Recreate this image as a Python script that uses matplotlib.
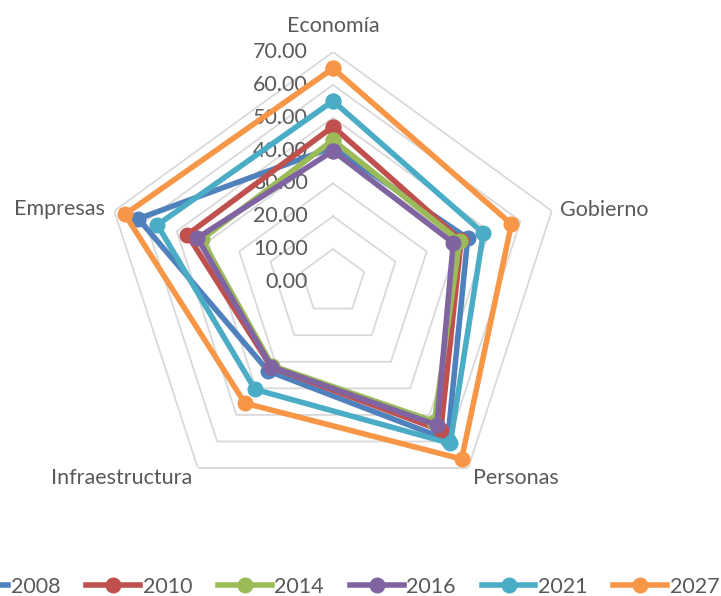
import numpy as np
import matplotlib.pyplot as plt
import matplotlib.transforms as mtransforms
from matplotlib.lines import Line2D

# === Data ===
categories = ["Economía", "Gobierno", "Personas", "Infraestructura", "Empresas"]
years = ["2008", "2010", "2014", "2016", "2021", "2027"]
v2008 = [41.0, 43.1, 59.4, 33.5, 62.3]
v2010 = [47.3, 41.0, 55.8, 32.0, 46.6]
v2014 = [43.2, 40.5, 52.5, 31.5, 42.0]
v2016 = [39.9, 38.5, 53.8, 31.9, 43.4]
v2021 = [55.1, 48.1, 60.7, 40.4, 56.2]
v2027 = [65.0, 57.1, 66.6, 45.6, 66.6]
ring_values = [10, 20, 30, 40, 50, 60, 70]
tick_values = [0, 10, 20, 30, 40, 50, 60, 70]

series = [v2008, v2010, v2014, v2016, v2021, v2027]
colors = ["#4F81BD", "#C0504D", "#9BBB59", "#8064A2", "#4BACC6", "#F79646"]

plt.rcParams["font.family"] = ["Lato", "DejaVu Sans"]
FS = 15.5
TXT = "#595959"

fig = plt.figure(figsize=(7.21, 5.96), dpi=100)
W, H = 721, 596
cx, cy, R = 333, 282, 230
ax = fig.add_axes([(cx - R) / W, (H - cy - R) / H, 2 * R / W, 2 * R / H], projection="polar")
ax.set_theta_offset(np.pi / 2)
ax.set_theta_direction(-1)
ax.set_ylim(0, 70)
ax.axis("off")

n = len(categories)
theta = np.arange(n) * 2 * np.pi / n
theta_closed = np.append(theta, theta[0])

# pentagon gridlines
for rv in ring_values:
    ax.plot(theta_closed, [rv] * (n + 1), color="#D9D9D9", lw=1.3, zorder=1)

# value labels on the vertical axis
for tv in tick_values:
    tr = mtransforms.offset_copy(ax.transData, fig=fig, x=-25, y=0, units="dots")
    ax.text(0, tv, f"{tv:.2f}", transform=tr, ha="right", va="center",
            fontsize=FS, color=TXT, zorder=2)

# category labels
label_specs = [
    (0, 26, "center", "center"),
    (8, 1, "left", "center"),
    (5, -10, "left", "center"),
    (-6, -10, "right", "center"),
    (-9, 2, "right", "center"),
]
for t, name, (dx, dy, ha, va) in zip(theta, categories, label_specs):
    tr = mtransforms.offset_copy(ax.transData, fig=fig, x=dx, y=dy, units="dots")
    ax.text(t, 70, name, transform=tr, ha=ha, va=va, fontsize=FS, color=TXT)

# series
for vals, col, yr in zip(series, colors, years):
    ax.plot(theta_closed, vals + vals[:1], color=col, lw=4, marker="o",
            markersize=10.5, solid_joinstyle="round", clip_on=False,
            zorder=3, label=yr)

handles = [Line2D([], [], color=c, lw=4, marker="o", markersize=10.5) for c in colors]
fig.legend(handles, years, loc="center", bbox_to_anchor=(337 / W, 9 / H),
           ncol=6, frameon=False, fontsize=FS, handlelength=2.5,
           handletextpad=0.12, columnspacing=1.2, labelcolor=TXT,
           borderaxespad=0, borderpad=0)

fig.savefig("out.png", dpi=100)
